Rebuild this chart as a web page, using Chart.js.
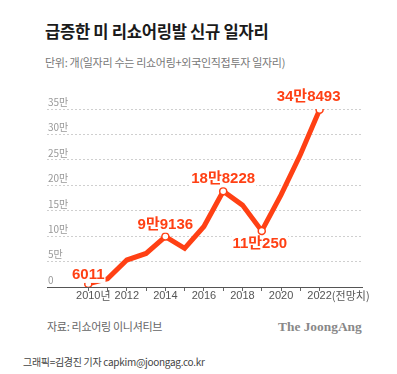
<!DOCTYPE html>
<html>
<head>
<meta charset="utf-8">
<script src="https://cdn.jsdelivr.net/npm/chart.js@4.4.1/dist/chart.umd.min.js"></script>
<style>
  body { margin: 0; width: 397px; height: 374px; background: #fff; position: relative; overflow: hidden;
         font-family: "Noto Sans CJK KR", sans-serif; }
  .t { position: absolute; white-space: nowrap; line-height: 1; }
  #title { left: 45px; top: 23px; font-size: 16.6px; font-weight: 700; color: #1a1a1a; letter-spacing: -0.3px; }
  #unit { left: 45px; top: 57px; font-size: 11px; color: #777; letter-spacing: -0.3px; }
  #src { left: 47px; top: 321px; font-size: 11px; color: #666; letter-spacing: -0.3px; }
  #logo { left: 278px; top: 320px; font-family: "Liberation Serif", "DejaVu Serif", serif; font-size: 13.4px; font-weight: 700; color: #888; }
  #credit { left: 23px; top: 357px; font-size: 10px; color: #444; letter-spacing: -0.3px; }
  #wrap { position: absolute; left: 0; top: 80px; width: 397px; height: 230px; }
</style>
</head>
<body>
<div class="t" id="title">급증한 미 리쇼어링발 신규 일자리</div>
<div class="t" id="unit">단위: 개(일자리 수는 리쇼어링+외국인직접투자 일자리)</div>
<div id="wrap"><canvas id="chart"></canvas></div>
<div class="t" id="src">자료: 리쇼어링 이니셔티브</div>
<div class="t" id="logo">The JoongAng</div>
<div class="t" id="credit">그래픽=김경진 기자 capkim@joongag.co.kr</div>

<script>
// yearly new jobs (reshoring + FDI)
const years = [2010, 2011, 2012, 2013, 2014, 2015, 2016, 2017, 2018, 2019, 2020, 2021, 2022];
const jobs = [6011, 16000, 53000, 66000, 99136, 76000, 119000, 188228, 161000, 110250, 181000, 260000, 348493];

// labelled points
const noteIdx = [0, 4, 7, 9, 12];
const noteText = ["6011", "9만9136", "18만8228", "11만250", "34만8493"];

// x axis labels
const xLabelYears = [2010, 2012, 2014, 2016, 2018, 2020, 2022];
const xLabelSuffix = ["년", "", "", "", "", "", "(전망치)"];

const orange = "#ff4014";

// where each note sits relative to its point
const noteDx = [0, 0, 0, -2, -11];
const noteDy = [-9, -12, -12, 13, -13];

const notesPlugin = {
    id: "notes",
    afterDatasetsDraw(chart) {
        const ctx = chart.ctx;
        const meta = chart.getDatasetMeta(0);
        ctx.save();
        ctx.font = 'bold 15px "Liberation Sans", "Noto Sans CJK KR", sans-serif';
        ctx.textAlign = "center";
        ctx.textBaseline = "middle";
        noteIdx.forEach((idx, i) => {
            const p = meta.data[idx];
            const x = p.x + noteDx[i];
            const y = p.y + noteDy[i];
            const w = ctx.measureText(noteText[i]).width;
            ctx.fillStyle = "#fff";
            ctx.fillRect(x - w / 2 - 1, y - 8, w + 2, 16);
            ctx.fillStyle = orange;
            ctx.fillText(noteText[i], x, y);
        });
        ctx.restore();
    },
    afterDraw(chart) {
        // x labels: year centred on tick, suffix trailing to the right
        const ctx = chart.ctx;
        const xs = chart.scales.x;
        const y = chart.chartArea.bottom + 9;
        ctx.save();
        ctx.font = '11px "Liberation Sans", "Noto Sans CJK KR", sans-serif';
        ctx.fillStyle = "#555";
        ctx.textBaseline = "middle";
        xLabelYears.forEach((yr, i) => {
            const px = xs.getPixelForValue(yr);
            const txt = String(yr);
            const w = ctx.measureText(txt).width;
            ctx.textAlign = "left";
            ctx.fillText(txt, px - w / 2, y);
            if (xLabelSuffix[i]) {
                ctx.font = '11px "Noto Sans CJK KR", sans-serif';
                ctx.fillText(xLabelSuffix[i], px + w / 2, y);
                ctx.font = '11px "Liberation Sans", "Noto Sans CJK KR", sans-serif';
            }
        });
        ctx.restore();
    }
};

const ctx = document.getElementById("chart").getContext("2d");
const chart = new Chart(ctx, {
    type: "line",
    data: {
        datasets: [{
            data: years.map((yr, i) => ({ x: yr, y: jobs[i] })),
            borderColor: orange,
            borderWidth: 5,
            tension: 0,
            borderCapStyle: "butt",
            borderJoinStyle: "miter",
            pointRadius: (c) => noteIdx.includes(c.dataIndex) ? 3.5 : 0,
            pointBackgroundColor: "#fff",
            pointBorderColor: orange,
            pointBorderWidth: 1.5,
        }],
    },
    options: {
        responsive: true,
        maintainAspectRatio: false,
        animation: false,
        events: [],
        layout: { padding: { left: 45, right: 35, top: 29, bottom: 19 } },
        plugins: { legend: { display: false }, tooltip: { enabled: false } },
        scales: {
            x: {
                type: "linear",
                min: 2007.86,
                max: 2024.2,
                afterBuildTicks: (scale) => { scale.ticks = years.map(v => ({ value: v })); },
                grid: { drawOnChartArea: false, drawTicks: true, tickLength: 4, color: "#666" },
                border: { display: true, color: "#555", width: 1 },
                ticks: { display: false },
            },
            y: {
                min: 0,
                max: 350000,
                ticks: {
                    stepSize: 50000,
                    mirror: true,
                    padding: 1,
                    labelOffset: -7,
                    color: "#999",
                    font: { size: 10, family: '"Noto Sans CJK KR", sans-serif' },
                    callback: (v) => v === 0 ? "0" : (v / 10000) + "만",
                },
                grid: {
                    drawTicks: false,
                    color: (c) => c.tick && c.tick.value === 0 ? "rgba(0,0,0,0)" : "#cfcfcf",
                },
                border: { display: false, dash: [2, 2] },
            },
        },
    },
    plugins: [notesPlugin],
});
</script>
</body>
</html>
